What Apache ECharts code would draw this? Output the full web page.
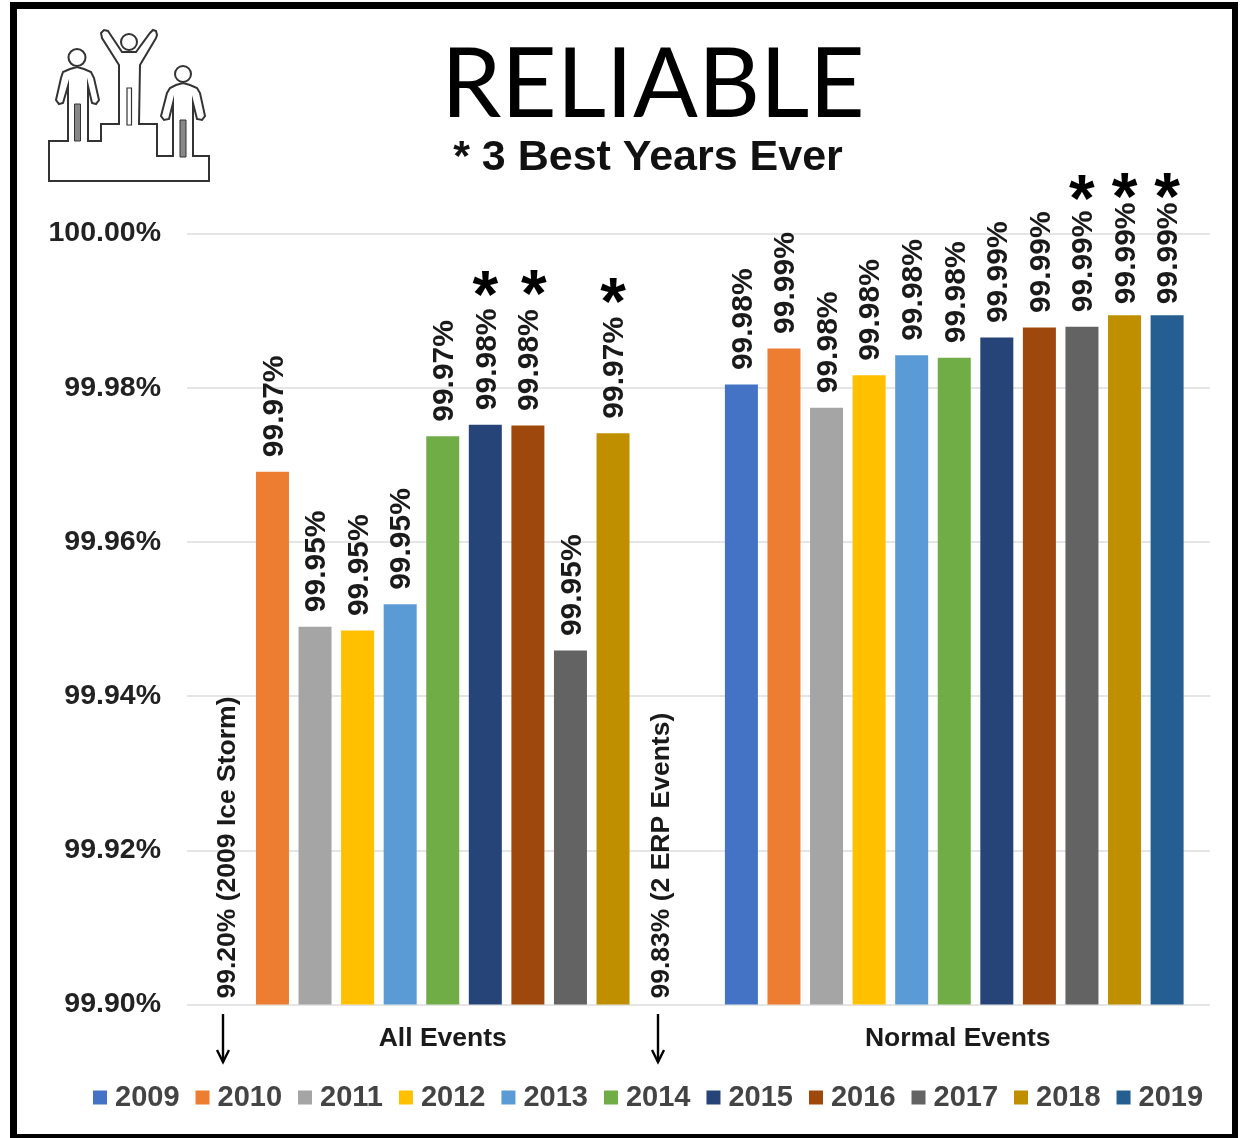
<!DOCTYPE html>
<html><head><meta charset="utf-8"><style>html,body{margin:0;padding:0;background:#fff}#c{width:1250px;height:1138px}</style>
<script src="https://cdn.jsdelivr.net/npm/echarts@6/dist/echarts.min.js"></script></head>
<body><div id="c"></div><script>
const groups = ['All Events', 'Normal Events'];
const years = ['2009','2010','2011','2012','2013','2014','2015','2016','2017','2018','2019'];
const allEvents = [99.20, 99.9691, 99.9490, 99.9485, 99.9519, 99.9737, 99.9752, 99.9751, 99.9459, 99.9741, 99.83];
const normalEvents = [99.9804, 99.9851, 99.9774, 99.9816, 99.9842, 99.9839, 99.9865, 99.9878, 99.9879, 99.9894, 99.9894];
const allStarLevels = [null, null, null, null, null, null, 99.9933, 99.9935, null, 99.9925, null];
const normalStarLevels = [null, null, null, null, null, null, null, null, 100.0058, 100.0061, 100.0061];
const notes = {'2009': '(2009 Ice Storm)', '2019': '(2 ERP Events)'};
const colors = ['#4472C4','#ED7D31','#A5A5A5','#FFC000','#5B9BD5','#70AD47','#264478','#9E480E','#636363','#BF8F00','#255E91'];
const yTicks = {min: 99.90, max: 100, interval: 0.02};
const font = '"Liberation Sans", Arial, sans-serif';
const noteShift = {'2009': [4, -2], '2019': [4, 6]};
const tightNormalLabels = ['2018', '2019'];
const starShiftAll = {'2016': 6};

const series = [];
years.forEach((y, i) => {
  series.push({
    type: 'bar', name: y, xAxisIndex: 0, yAxisIndex: 0, barWidth: 33, barGap: '29%',
    itemStyle: {color: colors[i]},
    data: [allEvents[i], tightNormalLabels.includes(y) ? {value: normalEvents[i], label: {distance: 8}} : normalEvents[i]],
    label: {show: true, position: 'top', rotate: 90, align: 'left', verticalAlign: 'middle', distance: 11.5, offset: [3, 2],
      fontFamily: font, fontWeight: 'bold', fontSize: 30, color: '#1a1a1a',
      formatter: p => p.value.toFixed(2) + '%'}
  });
});
// Second, invisible layer on the same grid: carries the asterisks and the notes for the two off-scale bars.
years.forEach((y, i) => {
  const below = allEvents[i] < yTicks.min;
  let first = allStarLevels[i];
  if (below) {
    first = {
      value: yTicks.min,
      label: {rotate: 90, align: 'left', verticalAlign: 'middle', distance: 2, offset: noteShift[y],
        fontSize: 26.5, color: '#1a1a1a',
        formatter: allEvents[i].toFixed(2) + '% ' + notes[y]}
    };
  } else if (starShiftAll[y]) {
    first = {value: allStarLevels[i], label: {offset: [starShiftAll[y], 14]}};
  }
  series.push({
    type: 'bar', name: 'star ' + y, xAxisIndex: 1, yAxisIndex: 0, barWidth: 33, barGap: '29%', clip: false, silent: true,
    itemStyle: {color: 'transparent'},
    data: [first, normalStarLevels[i]],
    label: {show: true, position: 'top', distance: 0, offset: [0, 14], verticalAlign: 'middle', align: 'center',
      formatter: '*', fontFamily: font, fontWeight: 'bold', fontSize: 66, color: '#000'}
  });
});

const podium = [[49,181],[49,141],[68,141],[68,86],[63,103],[59,104],[56,100],[61,78],[63,72],[70,69],[77,67],[84,69],[91,72],[94,78],[99,100],[96,104],[92,103],[88,86],[88,141],[101,141],[101,124],[119,124],[119,65],[102,38],[101,33],[104,30],[108,31],[110,34],[122,52],[136,52],[150,33],[153,30],[156,31],[157,35],[156,38],[140,65],[139,124],[157,124],[157,156],[173,156],[173,103],[169,119],[164,120],[161,116],[167,93],[170,88],[176,85],[183,83],[190,85],[197,88],[200,93],[205,116],[202,120],[197,119],[193,103],[193,156],[209,156],[209,181]];
const iconStyle = {stroke: '#333', lineWidth: 2, fill: 'none'};
const arrow = x => [[[x, 1014], [x, 1062]], [[x - 6, 1050], [x, 1062], [x + 6, 1050]]];
const arrowEls = [223, 658].flatMap(x => arrow(x).map(pts => ({type: 'polyline', shape: {points: pts}, style: {stroke: '#000', lineWidth: 2.4, fill: 'none'}})));
const frame = [[10, 2, 1228, 7], [10, 1134, 1228, 4], [10, 2, 7, 1136], [1232, 2, 6, 1136]];
const frameEls = frame.map(r => ({type: 'rect', shape: {x: r[0], y: r[1], width: r[2], height: r[3]}, style: {fill: '#000'}, z: 100}));

const chart = echarts.init(document.getElementById('c'), null, {renderer: 'canvas'});
chart.setOption({
  animation: false,
  backgroundColor: '#fff',
  grid: {left: 187, right: 40, top: 233.5, height: 771, containLabel: false},
  title: [
    {text: 'RELIABLE', left: 648, textAlign: 'center', top: 33, textStyle: {fontFamily: 'Lato, "Open Sans", sans-serif', fontWeight: 'normal', fontSize: 96, color: '#000'}},
    {text: '* 3 Best Years Ever', left: 643, textAlign: 'center', top: 132, textStyle: {fontFamily: font, fontWeight: 'bold', fontSize: 43, color: '#111'}}
  ],
  legend: {data: years, left: 88, top: 1078, itemWidth: 14, itemHeight: 14, itemGap: 16, icon: 'rect', selectedMode: false,
    textStyle: {fontFamily: font, fontWeight: 'bold', fontSize: 29, color: '#444', padding: [0, 0, 0, 3]}},
  xAxis: [
    {type: 'category', data: groups.map((g, i) => ({value: g, textStyle: {padding: [0, 0, 0, i ? 7 : 0]}})),
      axisLine: {show: false}, axisTick: {show: false},
      axisLabel: {margin: 21, fontFamily: font, fontWeight: 'bold', fontSize: 26.5, color: '#1a1a1a'}},
    {type: 'category', data: groups, show: false}
  ],
  yAxis: [{type: 'value', min: yTicks.min, max: yTicks.max, interval: yTicks.interval,
    axisLine: {show: false}, axisTick: {show: false},
    splitLine: {lineStyle: {color: '#dcdcdc', width: 1.5}},
    axisLabel: {margin: 26, fontFamily: font, fontWeight: 'bold', fontSize: 28.5, color: '#222',
      formatter: v => v.toFixed(2) + '%'}}],
  series: series,
  graphic: [
    ...frameEls,
    {type: 'polygon', shape: {points: podium}, style: iconStyle},
    {type: 'circle', shape: {cx: 77, cy: 57.5, r: 8.5}, style: iconStyle},
    {type: 'circle', shape: {cx: 129, cy: 42, r: 8}, style: iconStyle},
    {type: 'circle', shape: {cx: 183, cy: 74, r: 8}, style: iconStyle},
    {type: 'rect', shape: {x: 74.5, y: 104, width: 6, height: 37}, style: {stroke: '#333', lineWidth: 1, fill: '#888'}},
    {type: 'rect', shape: {x: 127, y: 88, width: 4.5, height: 37}, style: {stroke: '#333', lineWidth: 1.2, fill: '#fff'}},
    {type: 'rect', shape: {x: 180, y: 120, width: 6, height: 37}, style: {stroke: '#333', lineWidth: 1, fill: '#888'}},
    ...arrowEls
  ]
});
</script></body></html>
